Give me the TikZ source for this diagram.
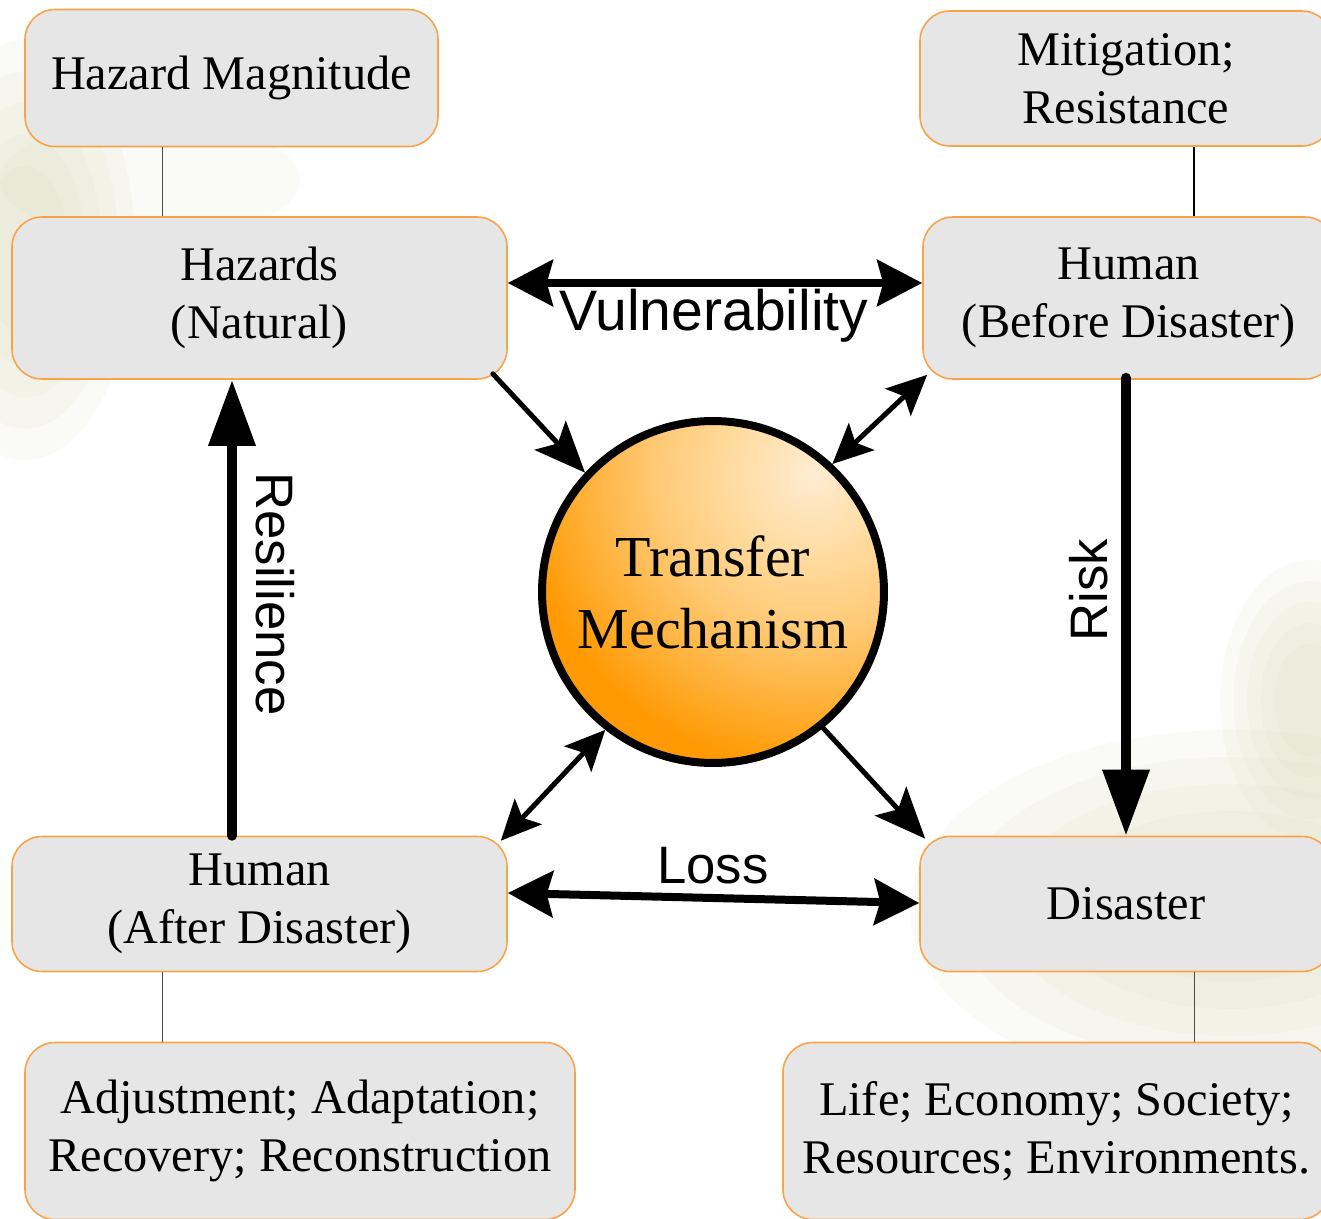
\documentclass[tikz,border=0pt]{standalone}
\usepackage{fontspec}
\setmainfont{Liberation Serif}
\setsansfont{Liberation Sans}
\usetikzlibrary{arrows.meta,calc}
\definecolor{boxfill}{RGB}{230,230,230}
\definecolor{boxline}{RGB}{250,162,72}
\definecolor{orangedeep}{RGB}{255,154,5}
\definecolor{orangemidA}{RGB}{255,170,40}
\definecolor{orangemidB}{RGB}{255,202,118}
\definecolor{orangemidC}{RGB}{255,222,168}
\definecolor{orangelight}{RGB}{255,236,210}
\definecolor{bgbeige}{RGB}{215,215,180}
\pgfdeclareradialshading{tmshade}{\pgfpoint{0bp}{0bp}}{%
  color(0bp)=(orangelight); color(2.9bp)=(orangemidC); color(6.5bp)=(orangemidB);
  color(10.4bp)=(orangemidA); color(12.2bp)=(orangedeep); color(50bp)=(orangedeep)}
\begin{document}
\begin{tikzpicture}[x=0.02cm,y=-0.02cm,
  box/.style={draw=boxline, line width=0.9pt, fill=boxfill, rounded corners=0.6cm,
    inner sep=0pt, align=center, font=\fontsize{27.5}{32.8}\selectfont},
  bx/.style 2 args={minimum width=#1*0.02cm, minimum height=#2*0.02cm},
  lbl/.style={font=\sffamily\fontsize{30}{36}\selectfont, inner sep=0pt},
  thinlink/.style={draw=black!70, line width=0.7pt},
  vul/.style={line width=0.16cm,
    {Stealth[length=0.9cm,width=0.92cm,inset=0.12cm]}-{Stealth[length=0.9cm,width=0.92cm,inset=0.12cm]}},
  bigtri/.style={line width=0.2cm, line cap=round, -{Triangle[length=1.32cm,width=0.9cm]}},
  dgone/.style={line width=0.1cm, line cap=round, -{Stealth[length=1.02cm,width=0.85cm,inset=0.22cm]}},
  dgtwo/.style={line width=0.1cm,
    {Stealth[length=0.8cm,width=0.74cm,inset=0.17cm]}-{Stealth[length=0.8cm,width=0.74cm,inset=0.17cm]}},
  blob/.style={fill=bgbeige, opacity=0.11}
]
\useasboundingbox (0,0) rectangle (1321,1219);
\fill[white] (0,0) rectangle (1321,1219);
% faint background texture
\foreach \s in {1,0.85,0.7,0.55,0.4}{
  \fill[blob] (25,250) ellipse ({\s*2.2cm} and {\s*4.2cm});
  \fill[blob] (1230,910) ellipse ({\s*6.4cm} and {\s*3.6cm});
  \fill[blob] (1310,700) ellipse ({\s*1.8cm} and {\s*2.8cm});
}
\fill[blob] (150,180) ellipse (3cm and 1.2cm);

% boxes
\node[box, bx={413}{137}] (hm) at (231.5,78) {Hazard Magnitude};
\node[box, bx={495}{162}] (hz) at (259.5,298) {Hazards\\(Natural)};
\node[box, bx={412}{135}] (mi) at (1126,78.5) {Mitigation;\\Resistance};
\node[box, bx={412}{162}] (hb) at (1129,298) {Human\\(Before Disaster)};
\node[box, bx={495}{135}] (ha) at (259.5,904) {Human\\(After Disaster)};
\node[box, bx={412}{135}] (ds) at (1126,904) {Disaster};
\node[box, bx={550}{177}] (ad) at (300,1131) {Adjustment; Adaptation;\\Recovery; Reconstruction};
\node[box, bx={547}{177}] (lf) at (1056.5,1131) {Life; Economy; Society;\\Resources; Environments.};

% central circle
\node[circle, draw=black, line width=0.16cm, minimum size=6.84cm, inner sep=0pt,
  align=center, font=\fontsize{33}{41}\selectfont,
  path picture={\shade[shading=tmshade]
    ($(path picture bounding box.center)+(100,-118)$) circle (12cm);}]
  (tm) at (713,592) {Transfer\\Mechanism};

% thin links
\draw[thinlink] ($(hm.south west)+(138,0)$) -- ($(hz.north west)+(151,0)$);
\draw[line width=0.05cm] ($(mi.south west)+(275,0)$) -- ($(hb.north west)+(272,0)$);
\draw[thinlink] ($(ha.south west)+(151,0)$) -- ($(ad.north west)+(138,0)$);
\draw[thinlink] ($(ds.south west)+(275,0)$) -- ($(lf.north west)+(412,0)$);

% main arrows
\draw[vul] ($(hz.east)+(0,-15)$) -- ($(hb.west)+(0,-15)$);
\node[lbl, font=\sffamily\fontsize{32.5}{38}\selectfont] (vl) at (714,316) {Vulnerability};

\draw[vul] ($(ha.east)+(0,-11)$) -- ($(ds.west)+(0,-1)$);
\node[lbl] (ll) at (713,866) {Loss};

\draw[bigtri] ($(hb.south)+(-3,-2)$) -- ($(ds.north)+(0,0)$);
\node[lbl, rotate=90] (rl) at (1089,590) {Risk};

\draw[bigtri] ($(ha.north)+(-27.5,0)$) -- ($(hz.south)+(-27.5,0)$);
\node[lbl, rotate=-90] (resl) at (275,594) {Resilience};

% diagonal arrows
\draw[dgone] ($(hz.south east)+(-15,-6)$) -- (tm.137.5);
\draw[dgtwo] ($(hb.south west)+(5,-5)$) -- (tm.47.5);
\draw[dgtwo] (tm.232) -- ($(ha.north east)+(-7,5)$);
\draw[dgone] (tm.309.3) -- ($(ds.north west)+(6,3)$);
\end{tikzpicture}
\end{document}
